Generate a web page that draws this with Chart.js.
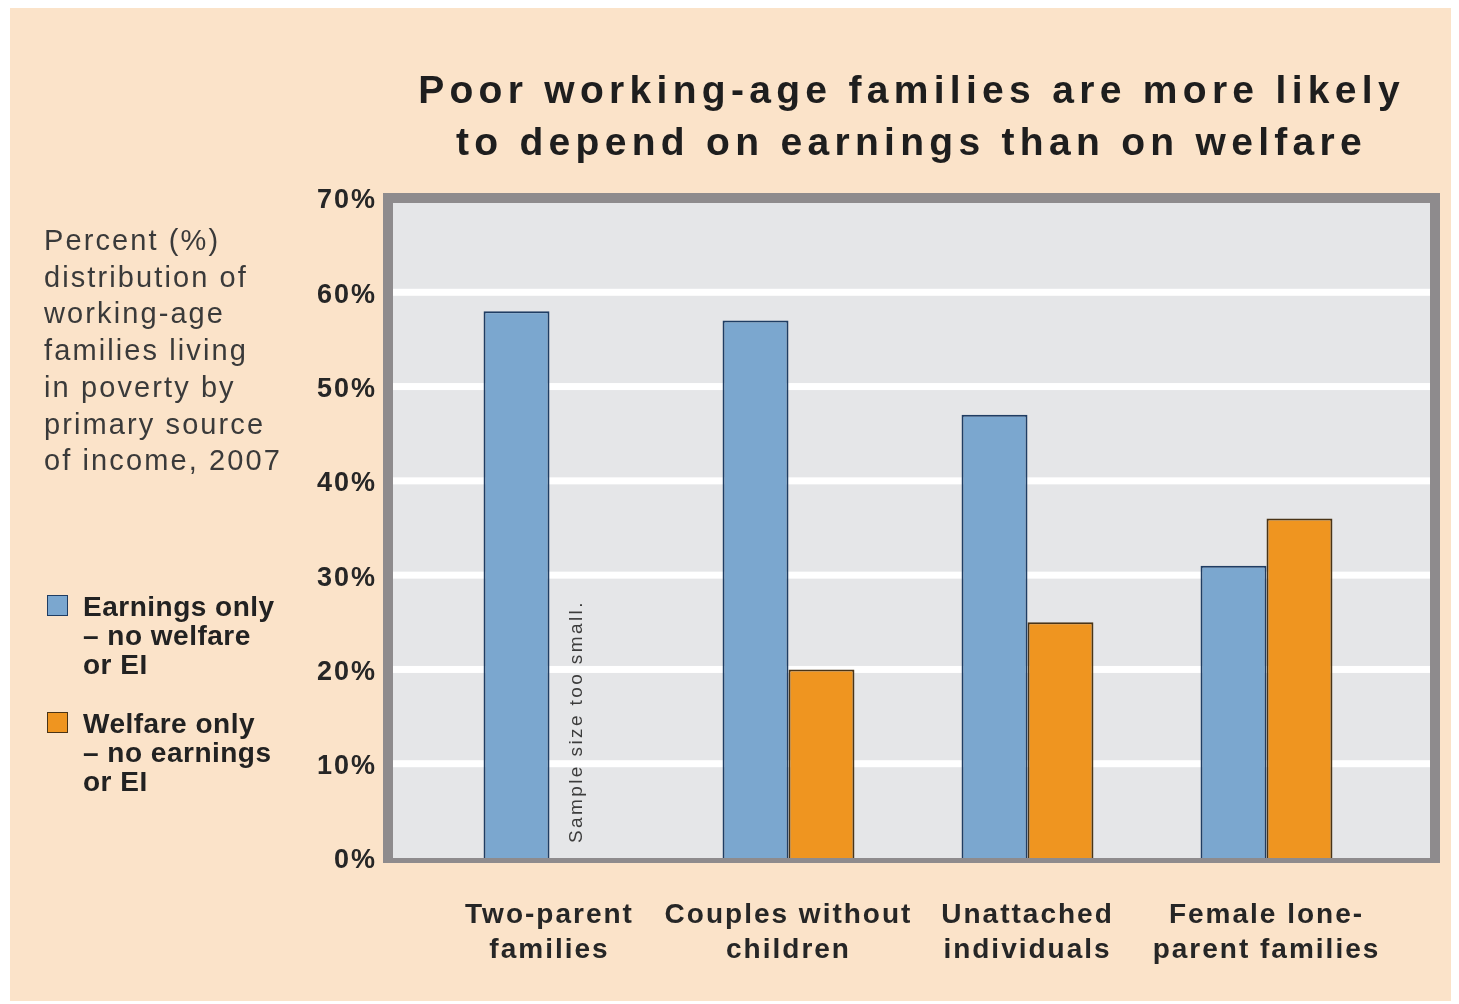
<!DOCTYPE html>
<html>
<head>
<meta charset="utf-8">
<title>Poor working-age families</title>
<script src="https://cdn.jsdelivr.net/npm/chart.js@4.4.0/dist/chart.umd.min.js"></script>
<style>
    body { margin: 0; background: #fff; font-family: "Liberation Sans", Arial, sans-serif; }
    #wrap { position: relative; width: 1459px; height: 1004px; overflow: hidden; }
    #paper { position: absolute; left: 10px; top: 8px; width: 1441px; height: 993px; background: #fbe3c9; }
    #chart { position: absolute; left: 0; top: 0; }
    #title {
        position: absolute; left: 383px; top: 64px; width: 1057px;
        text-align: center; font-weight: bold; font-size: 39px; line-height: 52px;
        letter-spacing: 5.3px; color: #1e1e1e;
    }
    #note {
        position: absolute; left: 44px; top: 222px;
        font-size: 29px; line-height: 36.7px; letter-spacing: 2.1px; color: #3a3a3a;
    }
    .leg { position: absolute; left: 47px; }
    .leg .box { position: absolute; left: 0; top: 3px; width: 19px; height: 19px; border: 1.5px solid; }
    .leg .txt {
        margin-left: 36px; font-weight: bold; font-size: 28px; line-height: 29px;
        letter-spacing: 0.5px; color: #222;
    }
</style>
</head>
<body>
<div id="wrap">
    <div id="paper"></div>
    <canvas id="chart" width="1459" height="1004"></canvas>
    <div id="title">Poor working-age families are more likely<br>to depend on earnings than on welfare</div>
    <div id="note"></div>
    <div id="legend"></div>
</div>

<script>
// data
const categories = [
    ["Two-parent", "families"],
    ["Couples without", "children"],
    ["Unattached", "individuals"],
    ["Female lone-", "parent families"]
];
const earningsOnly = [58, 57, 47, 31];
const welfareOnly = [null, 20, 25, 36];
const seriesNames = [
    ["Earnings only", "– no welfare", "or EI"],
    ["Welfare only", "– no earnings", "or EI"]
];
const yTicks = [0, 10, 20, 30, 40, 50, 60, 70];
const noteLines = ["Percent (%)", "distribution of", "working-age", "families living",
    "in poverty by", "primary source", "of income, 2007"];
const sampleNote = "Sample size too small.";

const fills = ["#7ba7cf", "#ef9520"];
const edges = ["#1f3d63", "#4a3416"];

document.getElementById("note").innerHTML = noteLines.join("<br>");

// legend
const legend = document.getElementById("legend");
const legTops = [592, 709];
seriesNames.forEach((lines, i) => {
    let item = document.createElement("div");
    item.className = "leg";
    item.style.top = legTops[i] + "px";
    item.innerHTML = `<span class="box" style="background:${fills[i]};border-color:${edges[i]}"></span>` +
        `<div class="txt">${lines.join("<br>")}</div>`;
    legend.appendChild(item);
});

// frame, panel and white grid lines behind the bars
const framePlugin = {
    id: "frame",
    beforeUpdate(chart) {
        chart.ctx.letterSpacing = "2px";
    },
    beforeDraw(chart) {
        const ctx = chart.ctx;
        const a = chart.chartArea;
        const y = chart.scales.y;
        ctx.letterSpacing = "2px";
        ctx.save();
        const L = a.left - 47, R = a.right + 54, T = a.top - 5, B = a.bottom + 5;
        ctx.fillStyle = "#8e8b8d";
        ctx.fillRect(L, T, R - L, B - T);
        ctx.fillStyle = "#e5e6e8";
        ctx.fillRect(L + 10, T + 10, R - L - 20, a.bottom - T - 10);
        ctx.fillStyle = "#ffffff";
        yTicks.forEach(v => {
            if (v === 0 || v === 70) return;
            const py = y.getPixelForValue(v);
            ctx.fillRect(L + 10, py - 3.5, R - L - 20, 7);
        });
        ctx.restore();
    },
    afterDatasetsDraw(chart) {
        const ctx = chart.ctx;
        const bar = chart.getDatasetMeta(0).data[0];
        const x = bar.x + bar.width / 2 + 27;
        const y = chart.scales.y.getPixelForValue(0) - 15;
        ctx.save();
        ctx.translate(x, y);
        ctx.rotate(-Math.PI / 2);
        ctx.letterSpacing = "2.4px";
        ctx.font = '19px "Liberation Sans", Arial, sans-serif';
        ctx.fillStyle = "#3c3c3c";
        ctx.textAlign = "left";
        ctx.textBaseline = "middle";
        ctx.fillText(sampleNote, 0, 0);
        ctx.restore();
    }
};

new Chart(document.getElementById("chart"), {
    type: "bar",
    data: {
        labels: categories,
        datasets: [
            {
                label: seriesNames[0].join(" "),
                data: earningsOnly,
                backgroundColor: fills[0],
                borderColor: edges[0],
                borderWidth: 2,
            },
            {
                label: seriesNames[1].join(" "),
                data: welfareOnly,
                backgroundColor: fills[1],
                borderColor: edges[1],
                borderWidth: 2,
            },
        ],
    },
    options: {
        responsive: false,
        animation: false,
        devicePixelRatio: 1,
        layout: { padding: { top: 198, right: 73, bottom: 0, left: 0 } },
        datasets: { bar: { categoryPercentage: 0.552, barPercentage: 1.0 } },
        plugins: {
            legend: { display: false },
            tooltip: { enabled: false },
        },
        scales: {
            x: {
                grid: { display: false, drawTicks: false },
                border: { display: false },
                afterFit: s => { s.height = 146; },
                ticks: {
                    padding: 40,
                    maxRotation: 0,
                    minRotation: 0,
                    autoSkip: false,
                    color: "#262626",
                    font: { family: "Liberation Sans", size: 28, weight: "bold", lineHeight: 1.25 },
                },
            },
            y: {
                min: 0,
                max: 70,
                grid: { display: false, drawTicks: false },
                border: { display: false },
                afterFit: s => { s.width = 430; },
                afterBuildTicks: s => { s.ticks = yTicks.map(v => ({ value: v })); },
                ticks: {
                    padding: 53,
                    labelOffset: 3,
                    color: "#262626",
                    font: { family: "Liberation Sans", size: 27, weight: "bold" },
                    callback: v => v + "%",
                },
            },
        },
    },
    plugins: [framePlugin],
});
</script>
</body>
</html>
